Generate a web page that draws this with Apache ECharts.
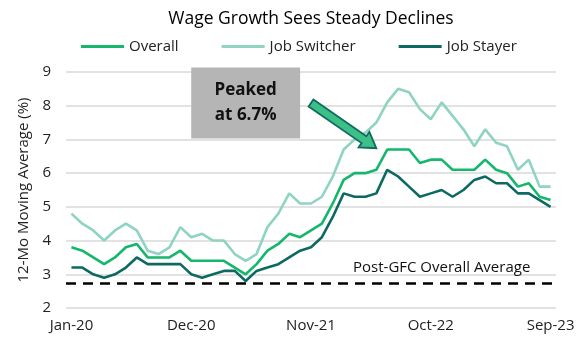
<!DOCTYPE html>
<html>
<head>
<meta charset="utf-8">
<script src="https://cdn.jsdelivr.net/npm/echarts@6/dist/echarts.min.js"></script>
<style>
html,body{margin:0;padding:0;background:#fff;}
#chart{width:580px;height:350px;}
</style>
</head>
<body>
<div id="chart"></div>
<script>
var months = [
  'Jan-20','Feb-20','Mar-20','Apr-20','May-20','Jun-20','Jul-20','Aug-20','Sep-20','Oct-20','Nov-20','Dec-20',
  'Jan-21','Feb-21','Mar-21','Apr-21','May-21','Jun-21','Jul-21','Aug-21','Sep-21','Oct-21','Nov-21','Dec-21',
  'Jan-22','Feb-22','Mar-22','Apr-22','May-22','Jun-22','Jul-22','Aug-22','Sep-22','Oct-22','Nov-22','Dec-22',
  'Jan-23','Feb-23','Mar-23','Apr-23','May-23','Jun-23','Jul-23','Aug-23','Sep-23'
];
var overall = [3.8,3.7,3.5,3.3,3.5,3.8,3.9,3.5,3.5,3.5,3.7,3.4,3.4,3.4,3.4,3.2,3.0,3.3,
  3.7,3.9,4.2,4.1,4.3,4.5,5.1,5.8,6.0,6.0,6.1,6.7,6.7,6.7,6.3,6.4,6.4,
  6.1,6.1,6.1,6.4,6.1,6.0,5.6,5.7,5.3,5.2];
var jobSwitcher = [4.8,4.5,4.3,4.0,4.3,4.5,4.3,3.7,3.6,3.8,4.4,4.1,4.2,4.0,4.0,3.6,3.4,3.6,
  4.4,4.8,5.4,5.1,5.1,5.3,5.9,6.7,7.0,7.2,7.5,8.1,8.5,8.4,7.9,7.6,8.1,
  7.7,7.3,6.8,7.3,6.9,6.8,6.1,6.4,5.6,5.6];
var jobStayer = [3.2,3.2,3.0,2.9,3.0,3.2,3.5,3.3,3.3,3.3,3.3,3.0,2.9,3.0,3.1,3.1,2.8,3.1,
  3.2,3.3,3.5,3.7,3.8,4.1,4.7,5.4,5.3,5.3,5.4,6.1,5.9,5.6,5.3,5.4,5.5,
  5.3,5.5,5.8,5.9,5.7,5.7,5.4,5.4,5.2,5.0];
var postGfcAverage = 2.72;
var yTicks = [2,3,4,5,6,7,8,9];

var FONT = '"Open Sans", "Noto Sans", sans-serif';
var C_OVERALL = '#14b76b', C_SWITCH = '#8fd4c2', C_STAY = '#0d6a62';

var chart = echarts.init(document.getElementById('chart'), null, {renderer:'canvas'});
var option = {
  animation: false,
  backgroundColor: '#fff',
  textStyle: {fontFamily: FONT},
  title: {
    text: 'Wage Growth Sees Steady Declines',
    left: 306, top: 5, textAlign: 'center',
    textStyle: {fontFamily: FONT, fontSize: 17.5, fontWeight: 'normal', color: '#000'}
  },
  legend: {
    left: 76, top: 34,
    itemWidth: 43, itemHeight: 3, itemGap: 43,
    icon: 'rect',
    textStyle: {fontFamily: FONT, fontSize: 15, color: '#222'},
    data: ['Overall','Job Switcher','Job Stayer']
  },
  grid: {left: 66, right: 24, top: 72, bottom: 42},
  xAxis: {
    type: 'category',
    data: months,
    boundaryGap: true,
    axisLine: {show: false},
    axisTick: {show: false},
    axisLabel: {interval: 10, fontFamily: FONT, fontSize: 15, color: '#222', margin: 10}
  },
  yAxis: {
    type: 'value', min: yTicks[0], max: yTicks[yTicks.length-1], interval: 1,
    name: '12-Mo Moving Average (%)',
    nameLocation: 'middle', nameGap: 24,
    nameTextStyle: {fontFamily: FONT, fontSize: 15, color: '#222'},
    axisLine: {show: false},
    axisTick: {show: false},
    axisLabel: {fontFamily: FONT, fontSize: 15, color: '#222', margin: 15},
    splitLine: {lineStyle: {color: '#d9d9d9', width: 1.5}}
  },
  series: [
    {name: 'Overall', type: 'line', data: overall, symbol: 'none', color: C_OVERALL,
     lineStyle: {width: 2.6, color: C_OVERALL}, z: 4,
     markLine: {
       silent: true, symbol: ['none','none'],
       lineStyle: {type: [10, 7], color: '#000', width: 2.5},
       label: {show: false},
       data: [{yAxis: postGfcAverage}]
     }},
    {name: 'Job Switcher', type: 'line', data: jobSwitcher, symbol: 'none', color: C_SWITCH,
     lineStyle: {width: 2.6, color: C_SWITCH}, z: 3},
    {name: 'Job Stayer', type: 'line', data: jobStayer, symbol: 'none', color: C_STAY,
     lineStyle: {width: 2.6, color: C_STAY}, z: 3}
  ]
};
chart.setOption(option);

function px(i, v){ return chart.convertToPixel({xAxisIndex:0, yAxisIndex:0}, [i, v]); }

var b1 = px(11.4, 9.13), b2 = px(21.2, 7.03);
var tail = px(22.1, 8.08), tip = px(28.4, 6.74);
var dx = tip[0]-tail[0], dy = tip[1]-tail[1];
var L = Math.sqrt(dx*dx+dy*dy), ux = dx/L, uy = dy/L, nx = -uy, ny = ux;
var bw = 4.2, hw = 9.5, hl = 15;
function P(a, s, t){ return [a[0]+ux*s+nx*t, a[1]+uy*s+ny*t]; }
var pts = [
  P(tail,0,-bw), P(tail,L-hl,-bw), P(tail,L-hl,-hw), P(tail,L,0),
  P(tail,L-hl,hw), P(tail,L-hl,bw), P(tail,0,bw)
];
var t = px(34.4, 3.2);

chart.setOption({
  graphic: [
    {type: 'rect', shape: {x: b1[0], y: b1[1], width: b2[0]-b1[0], height: b2[1]-b1[1]},
     style: {fill: '#b5b5b5'}, z: 10},
    {type: 'text', x: (b1[0]+b2[0])/2, y: (b1[1]+b2[1])/2,
     style: {text: 'Peaked\nat 6.7%', fontFamily: FONT, fontSize: 17, fontWeight: 'bold',
       fill: '#111', align: 'center', verticalAlign: 'middle', lineHeight: 25}, z: 11},
    {type: 'polygon', shape: {points: pts},
     style: {fill: '#3dbf88', stroke: '#0f6b5f', lineWidth: 1.8}, z: 10},
    {type: 'text', x: t[0], y: t[1],
     style: {text: 'Post-GFC Overall Average', fontFamily: FONT, fontSize: 15,
       fill: '#111', align: 'center', verticalAlign: 'middle'}, z: 10}
  ]
});
</script>
</body>
</html>
